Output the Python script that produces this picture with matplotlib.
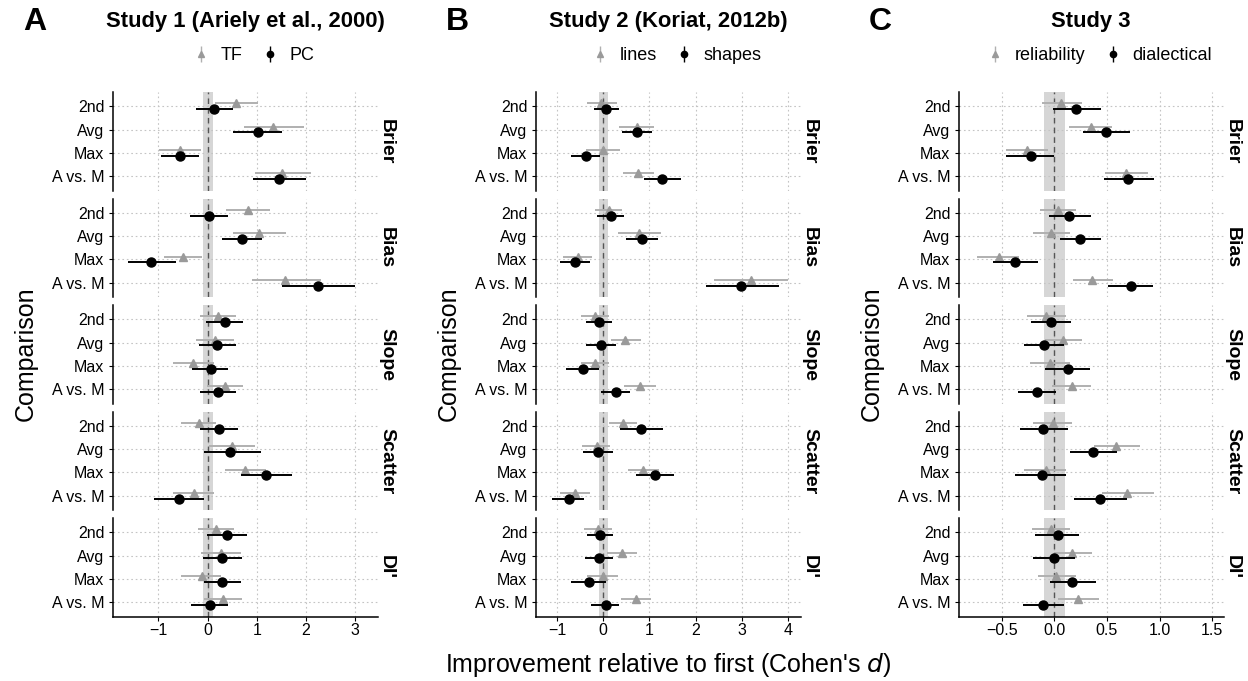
import numpy as np
import matplotlib
matplotlib.use("Agg")
import matplotlib.pyplot as plt
from matplotlib.lines import Line2D

plt.rcParams['font.family'] = ['Liberation Sans', 'DejaVu Sans']

# rows within each facet (top to bottom) and facets (metrics)
comparisons = ["2nd", "Avg", "Max", "A vs. M"]
metrics = ["Brier", "Bias", "Slope", "Scatter", "DI'"]

titles = ["Study 1 (Ariely et al., 2000)", "Study 2 (Koriat, 2012b)", "Study 3"]
letters = ["A", "B", "C"]
cond_labels = [["TF", "PC"], ["lines", "shapes"], ["reliability", "dialectical"]]
xlims = [(-1.93, 3.46), (-1.46, 4.27), (-0.91, 1.61)]
xticks = [[-1, 0, 1, 2, 3], [-1, 0, 1, 2, 3, 4], [-0.5, 0.0, 0.5, 1.0, 1.5]]

# Study 1 -- TF (grey) and PC (black): estimate, lower, upper; rows = metrics
s1_tf_est = [[0.575, 1.33, -0.56, 1.52], [0.83, 1.04, -0.50, 1.57], [0.21, 0.15, -0.29, 0.35],
             [-0.18, 0.49, 0.76, -0.28], [0.17, 0.27, -0.12, 0.32]]
s1_tf_lo = [[0.155, 0.75, -0.98, 0.97], [0.38, 0.51, -0.88, 0.91], [-0.16, -0.24, -0.70, -0.02],
            [-0.54, 0.03, 0.35, -0.71], [-0.20, -0.14, -0.54, -0.07]]
s1_tf_hi = [[1.02, 1.96, -0.14, 2.10], [1.27, 1.60, -0.12, 2.30], [0.58, 0.54, 0.13, 0.73],
            [0.18, 0.97, 1.19, 0.14], [0.54, 0.68, 0.28, 0.70]]
s1_pc_est = [[0.13, 1.02, -0.56, 1.45], [0.02, 0.70, -1.15, 2.24], [0.35, 0.20, 0.06, 0.22],
             [0.23, 0.46, 1.19, -0.58], [0.39, 0.30, 0.30, 0.04]]
s1_pc_lo = [[-0.24, 0.52, -0.95, 0.93], [-0.36, 0.29, -1.61, 1.51], [-0.03, -0.17, -0.31, -0.15],
            [-0.16, -0.08, 0.68, -1.10], [-0.02, -0.09, -0.07, -0.34]]
s1_pc_hi = [[0.51, 1.52, -0.17, 2.00], [0.41, 1.10, -0.65, 3.00], [0.73, 0.58, 0.42, 0.58],
            [0.62, 1.08, 1.71, -0.08], [0.81, 0.71, 0.68, 0.41]]

# Study 2 -- lines (grey) and shapes (black)
s2_ln_est = [[-0.04, 0.72, -0.01, 0.76], [0.12, 0.77, -0.55, 3.20], [-0.17, 0.48, -0.17, 0.80],
             [0.43, -0.14, 0.86, -0.61], [-0.12, 0.41, -0.01, 0.70]]
s2_ln_lo = [[-0.36, 0.34, -0.37, 0.43], [-0.17, 0.33, -0.87, 2.39], [-0.47, 0.16, -0.47, 0.46],
            [0.13, -0.45, 0.53, -0.93], [-0.41, 0.09, -0.34, 0.38]]
s2_ln_hi = [[0.30, 1.10, 0.36, 1.09], [0.41, 1.25, -0.24, 4.00], [0.12, 0.81, 0.13, 1.14],
            [0.73, 0.15, 1.21, -0.29], [0.18, 0.73, 0.33, 1.03]]
s2_sh_est = [[0.065, 0.73, -0.38, 1.28], [0.16, 0.84, -0.61, 2.98], [-0.09, -0.04, -0.43, 0.27],
             [0.82, -0.12, 1.11, -0.75], [-0.08, -0.09, -0.30, 0.05]]
s2_sh_lo = [[-0.21, 0.41, -0.69, 0.88], [-0.13, 0.50, -0.93, 2.22], [-0.38, -0.37, -0.80, -0.05],
            [0.37, -0.43, 0.70, -1.10], [-0.36, -0.40, -0.69, -0.27]]
s2_sh_hi = [[0.35, 1.06, -0.07, 1.69], [0.46, 1.19, -0.28, 3.79], [0.20, 0.27, -0.09, 0.58],
            [1.29, 0.21, 1.53, -0.41], [0.21, 0.21, 0.05, 0.35]]

# Study 3 -- reliability (grey) and dialectical (black)
s3_rel_est = [[0.064, 0.35, -0.26, 0.68], [0.03, -0.03, -0.53, 0.36], [-0.08, 0.08, -0.04, 0.17],
              [-0.01, 0.59, -0.08, 0.69], [-0.03, 0.17, 0.02, 0.22]]
s3_rel_lo = [[-0.12, 0.14, -0.46, 0.48], [-0.14, -0.20, -0.74, 0.18], [-0.26, -0.09, -0.23, -0.02],
             [-0.20, 0.38, -0.29, 0.45], [-0.21, 0.00, -0.16, 0.03]]
s3_rel_hi = [[0.26, 0.55, -0.06, 0.89], [0.21, 0.15, -0.34, 0.56], [0.11, 0.26, 0.15, 0.35],
             [0.17, 0.81, 0.11, 0.95], [0.15, 0.36, 0.21, 0.42]]
s3_dia_est = [[0.21, 0.49, -0.22, 0.70], [0.14, 0.24, -0.37, 0.73], [-0.03, -0.10, 0.13, -0.17],
              [-0.11, 0.37, -0.12, 0.43], [0.03, 0.00, 0.17, -0.11]]
s3_dia_lo = [[-0.01, 0.27, -0.46, 0.47], [-0.05, 0.05, -0.58, 0.51], [-0.22, -0.29, -0.09, -0.35],
             [-0.33, 0.15, -0.37, 0.19], [-0.18, -0.20, -0.04, -0.30]]
s3_dia_hi = [[0.44, 0.72, 0.00, 0.95], [0.35, 0.44, -0.16, 0.94], [0.16, 0.09, 0.34, 0.02],
             [0.13, 0.60, 0.11, 0.69], [0.23, 0.20, 0.40, 0.09]]

studies = [
    ((s1_tf_est, s1_tf_lo, s1_tf_hi), (s1_pc_est, s1_pc_lo, s1_pc_hi)),
    ((s2_ln_est, s2_ln_lo, s2_ln_hi), (s2_sh_est, s2_sh_lo, s2_sh_hi)),
    ((s3_rel_est, s3_rel_lo, s3_rel_hi), (s3_dia_est, s3_dia_lo, s3_dia_hi)),
]

W, H = 1248, 681
fig = plt.figure(figsize=(W / 100, H / 100), dpi=100)

ax_left = [112.7, 535.7, 958.7]
ax_w = 265
top0, fh, gap = 92, 98.5, 8
grey_pt, grey_bar = "#9a9a9a", "#b0b0b0"
dodge = 0.125
y = np.arange(len(comparisons))

for p in range(3):
    grey, black = studies[p]
    for f, metric in enumerate(metrics):
        top = top0 + f * (fh + gap)
        ax = fig.add_axes([ax_left[p] / W, 1 - (top + fh) / H, ax_w / W, fh / H])
        ax.set_xlim(*xlims[p])
        ax.set_ylim(3.6, -0.6)
        ax.axvspan(-0.1, 0.1, color="#d6d6d6", lw=0, zorder=0)
        for xt in xticks[p]:
            ax.axvline(xt, color="#c4c4c4", lw=0.8, ls=(0, (1.5, 2.5)), zorder=0.5)
        for yy in y:
            ax.axhline(yy, color="#c4c4c4", lw=0.8, ls=(0, (1.5, 2.5)), zorder=0.5)
        ax.axvline(0, color="#555555", lw=1.0, ls=(0, (4, 3)), zorder=1)

        est, lo, hi = grey
        ax.hlines(y - dodge, lo[f], hi[f], color=grey_bar, lw=1.4, zorder=2)
        ax.plot(est[f], y - dodge, ls="none", marker="^", ms=6, color=grey_pt, mec=grey_pt, zorder=3)
        est, lo, hi = black
        ax.hlines(y + dodge, lo[f], hi[f], color="black", lw=1.4, zorder=4)
        ax.plot(est[f], y + dodge, ls="none", marker="o", ms=6.5, color="black", zorder=5)

        for s in ["top", "right"]:
            ax.spines[s].set_visible(False)
        ax.spines["left"].set_linewidth(1.1)
        ax.set_yticks(y)
        ax.set_yticklabels(comparisons, fontsize=11.5)
        ax.tick_params(axis="y", length=3, width=0.8, pad=3)
        ax.set_xticks(xticks[p])
        if f == len(metrics) - 1:
            ax.spines["bottom"].set_linewidth(1.1)
            if p == 2:
                ax.set_xticklabels(["\u22120.5", "0.0", "0.5", "1.0", "1.5"], fontsize=11.5)
            else:
                ax.set_xticklabels([str(v).replace("-", "\u2212") for v in xticks[p]], fontsize=11.5)
            ax.tick_params(axis="x", length=3, width=0.8, pad=2)
        else:
            ax.spines["bottom"].set_visible(False)
            ax.tick_params(axis="x", length=0, labelbottom=False)

        ax.text(1.0 + 9 / ax_w, 0.5, metric, transform=ax.transAxes, rotation=270,
                ha="center", va="center", fontsize=14, fontweight="bold")

        if f == 0:
            h_grey = (Line2D([], [], ls="none", marker="|", ms=12, mew=1.0, color=grey_bar),
                      Line2D([], [], ls="none", marker="^", ms=4.5, color=grey_pt))
            h_black = (Line2D([], [], ls="none", marker="|", ms=12, mew=1.0, color="black"),
                       Line2D([], [], ls="none", marker="o", ms=4.5, color="black"))
            ax.legend([h_grey, h_black], cond_labels[p], loc="center", ncol=2,
                      bbox_to_anchor=(0.5 + 8 / ax_w, 1 + 36 / fh), frameon=False,
                      fontsize=13, handlelength=1.0, handletextpad=0.6, columnspacing=1.0)

    cx = ax_left[p] + ax_w / 2
    fig.text(cx / W, 1 - 22 / H, titles[p], ha="center", va="center", fontsize=15.8, fontweight="bold")
    fig.text((ax_left[p] - 78) / W, 1 - 22 / H, letters[p], ha="center", va="center",
             fontsize=23, fontweight="bold")
    fig.text((ax_left[p] - 87) / W, 1 - 354 / H, "Comparison", rotation=90,
             ha="center", va="center", fontsize=18)

fig.text((ax_left[1] + ax_w / 2) / W, 1 - 665 / H, "Improvement relative to first (Cohen's $\\it{d}$)",
         ha="center", va="center", fontsize=18)

fig.savefig("out.png", dpi=100)
